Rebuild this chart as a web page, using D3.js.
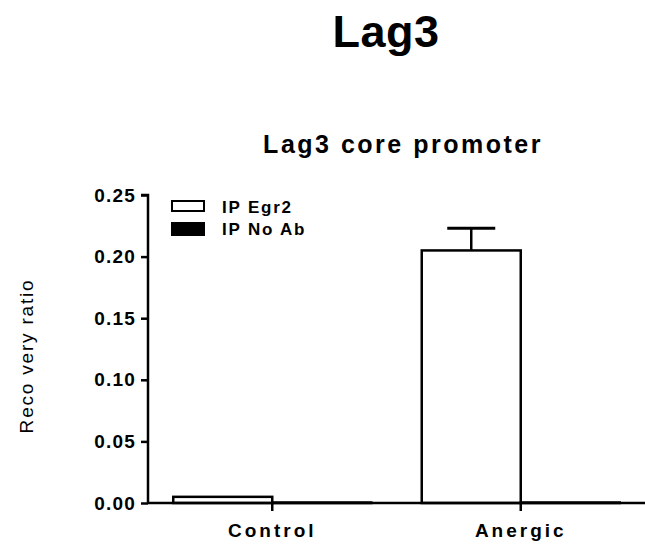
<!DOCTYPE html>
<html><head><meta charset="utf-8">
<script src="https://cdn.jsdelivr.net/npm/d3@7"></script>
<style>body{margin:0;background:#fff}svg{display:block}text{font-family:"Liberation Sans",Arial,sans-serif;font-weight:bold;fill:#000}</style>
</head><body><svg id="c" width="645" height="553"></svg>
<script>
const categories = ["Control", "Anergic"];
const series = ["IP Egr2", "IP No Ab"];
const egr2Values = [0.005, 0.205];
const egr2Errors = [0, 0.018];
const noAbValues = [0.0004, 0.0004];
const yTicks = [0, 0.05, 0.10, 0.15, 0.20, 0.25];

const svg = d3.select("#c");
const x0 = d3.scaleBand().domain(categories).range([148, 645]).padding(0);
const x1 = d3.scaleBand().domain(series).range([0, x0.bandwidth()]).paddingInner(0).paddingOuter(0.255);
const y = d3.scaleLinear().domain([0, 0.25]).range([503, 195]);

const data = categories.map((c, i) => ({c, vals: [
  {s: series[0], v: egr2Values[i], e: egr2Errors[i]},
  {s: series[1], v: noAbValues[i], e: 0}
]}));

// titles
svg.append("text").attr("x", 386).attr("y", 47).attr("text-anchor", "middle")
  .style("font-size", "45px").style("letter-spacing", "0.5px").text("Lag3");
svg.append("text").attr("x", 403).attr("y", 153).attr("text-anchor", "middle")
  .style("font-size", "25px").style("letter-spacing", "2.5px").text("Lag3 core promoter");

// bars
const g = svg.append("g").selectAll("g").data(data).join("g")
  .attr("transform", d => `translate(${x0(d.c)},0)`);
g.selectAll("rect").data(d => d.vals).join("rect")
  .attr("x", d => x1(d.s)).attr("width", x1.bandwidth())
  .attr("y", d => y(d.v)).attr("height", d => y(0) - y(d.v))
  .attr("fill", (d, i) => i === 0 ? "#fff" : "#000")
  .attr("stroke", "#000").attr("stroke-width", 2.5);

// error bars
g.each(function(d) {
  const v = d.vals[0];
  if (v.e > 0) {
    const cx = x1(v.s) + x1.bandwidth() / 2;
    const sel = d3.select(this);
    sel.append("line").attr("x1", cx).attr("x2", cx).attr("y1", y(v.v)).attr("y2", y(v.v + v.e))
      .attr("stroke", "#000").attr("stroke-width", 2.5);
    sel.append("line").attr("x1", cx - 24).attr("x2", cx + 24).attr("y1", y(v.v + v.e)).attr("y2", y(v.v + v.e))
      .attr("stroke", "#000").attr("stroke-width", 3);
  }
});

// y axis
const ya = svg.append("g").attr("transform", "translate(148,0)")
  .call(d3.axisLeft(y).tickValues(yTicks).tickFormat(d3.format(".2f")).tickSize(7).tickPadding(5));
ya.select(".domain").attr("stroke-width", 2.5).attr("d", `M-7,${y(0.25)}H0V${y(0)}`);
ya.selectAll(".tick line").attr("stroke-width", 2.5);
ya.selectAll(".tick text").style("font-size", "19px").style("letter-spacing", "1.2px")
  .style("font-family", '"Liberation Sans",Arial,sans-serif').style("font-weight", "bold");

// x axis
const xa = svg.append("g").attr("transform", `translate(0,${y(0)})`)
  .call(d3.axisBottom(x0).tickSize(8).tickPadding(13));
xa.select(".domain").attr("stroke-width", 2.5).attr("d", `M148,0H645`);
xa.selectAll(".tick line").attr("stroke-width", 2.5);
xa.selectAll(".tick text").style("font-size", "19px").style("letter-spacing", "3px")
  .style("font-family", '"Liberation Sans",Arial,sans-serif').style("font-weight", "bold");

// y label
svg.append("text").attr("transform", "translate(33,356) rotate(-90)").attr("text-anchor", "middle")
  .style("font-size", "19px").style("font-weight", "normal").style("letter-spacing", "1.8px").text("Reco very ratio");

// legend
const lg = svg.append("g").attr("transform", "translate(172,201)");
series.forEach((s, i) => {
  lg.append("rect").attr("x", 0).attr("y", i * 22).attr("width", 32).attr("height", i === 0 ? 10 : 12)
    .attr("fill", i === 0 ? "#fff" : "#000").attr("stroke", "#000").attr("stroke-width", 2);
  lg.append("text").attr("x", 50).attr("y", i * 22 + 12).style("font-size", "17px")
    .style("letter-spacing", "1.8px").text(s);
});
</script></body></html>
